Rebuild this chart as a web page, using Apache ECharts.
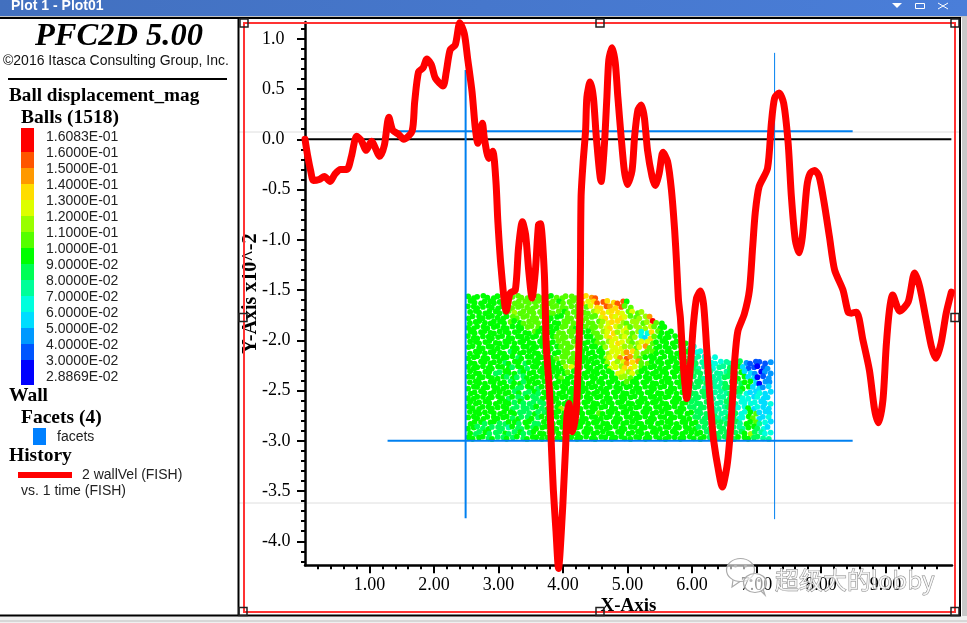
<!DOCTYPE html>
<html><head><meta charset="utf-8"><title>PFC2D history plot</title>
<script src="https://cdn.jsdelivr.net/npm/echarts@6/dist/echarts.min.js"></script>
<style>html,body{margin:0;padding:0;background:#fff}#c{width:967px;height:623px}</style></head>
<body><div id="c"></div>
<script>
// wallVel history (x: time, y: wallVel x10^-2)
const curveX = [0.00,0.04,0.09,0.13,0.22,0.30,0.39,0.46,0.55,0.65,0.72,0.80,0.87,0.95,1.03,1.16,1.23,1.30,1.36,1.45,1.53,1.66,1.70,1.76,1.83,1.89,1.96,2.02,2.14,2.19,2.25,2.33,2.40,2.47,2.52,2.59,2.64,2.68,2.75,2.78,2.85,2.91,2.96,2.99,3.04,3.12,3.18,3.26,3.31,3.37,3.42,3.47,3.52,3.57,3.62,3.65,3.71,3.74,3.79,3.82,3.85,3.89,3.93,3.99,4.01,4.04,4.06,4.09,4.15,4.20,4.22,4.26,4.27,4.28,4.31,4.35,4.37,4.42,4.47,4.52,4.59,4.64,4.68,4.71,4.76,4.81,4.85,4.90,4.95,5.00,5.07,5.11,5.16,5.21,5.26,5.31,5.38,5.43,5.49,5.55,5.62,5.68,5.73,5.76,5.79,5.82,5.86,5.92,5.98,6.02,6.07,6.13,6.18,6.23,6.27,6.31,6.34,6.40,6.47,6.54,6.58,6.63,6.66,6.71,6.81,6.89,6.94,6.98,7.04,7.17,7.23,7.28,7.35,7.42,7.49,7.54,7.60,7.66,7.71,7.78,7.83,7.90,7.97,8.05,8.13,8.21,8.34,8.42,8.47,8.55,8.65,8.75,8.83,8.89,8.96,9.01,9.06,9.11,9.22,9.35,9.45,9.53,9.63,9.71,9.78,9.86,9.94,10.02];
const curveY = [0.00,-0.16,-0.32,-0.41,-0.40,-0.37,-0.42,-0.35,-0.30,-0.30,-0.17,0.03,-0.01,-0.11,-0.02,-0.17,-0.06,0.22,0.09,0.05,0.00,0.08,0.37,0.67,0.71,0.80,0.74,0.61,0.53,0.67,0.89,0.94,1.16,1.05,0.81,0.47,0.11,-0.04,0.16,0.01,-0.19,-0.12,-0.42,-0.82,-1.28,-1.71,-1.53,-1.50,-1.08,-0.82,-0.95,-1.32,-1.58,-1.32,-0.85,-0.84,-1.33,-2.05,-2.51,-3.06,-3.49,-3.89,-4.27,-3.72,-3.46,-3.06,-2.76,-2.63,-2.91,-2.73,-2.51,-1.78,-1.30,-0.57,-0.24,0.09,0.42,0.57,0.42,-0.01,-0.42,-0.07,0.42,0.79,0.91,0.76,0.42,0.03,-0.31,-0.45,-0.31,0.03,0.29,0.34,0.22,-0.11,-0.37,-0.46,-0.34,-0.13,-0.22,-0.50,-0.90,-1.23,-1.60,-1.78,-2.21,-2.58,-2.21,-1.85,-1.58,-1.51,-1.65,-2.11,-2.51,-2.84,-3.02,-3.26,-3.46,-3.26,-3.02,-2.56,-2.21,-1.91,-1.74,-1.50,-1.07,-0.73,-0.47,-0.29,0.16,0.41,0.46,0.36,-0.04,-0.57,-1.00,-1.13,-0.97,-0.47,-0.34,-0.31,-0.37,-0.64,-0.97,-1.30,-1.50,-1.72,-1.73,-1.72,-2.00,-2.30,-2.69,-2.82,-2.59,-2.06,-1.70,-1.55,-1.71,-1.62,-1.33,-1.47,-1.80,-2.06,-2.18,-2.03,-1.73,-1.52];

// wall facets
const wallTopX = [1.28,8.49],  wallTopY = [0.08,0.08];
const wallBotX = [1.28,8.49],  wallBotY = [-3.00,-3.00];
const wallLeftX = [2.49,2.49], wallLeftY = [0.69,-3.77];
const wallRightX = [7.28,7.28], wallRightY = [0.86,-3.78];
const zeroX = [0,10.02], zeroY = [0,0];

// axis ticks
const xTicks = [1,2,3,4,5,6,7,8,9];
const xMinorTicks = [0.2,0.4,0.6,0.8,1.2,1.4,1.6,1.8,2.2,2.4,2.6,2.8,3.2,3.4,3.6,3.8,4.2,4.4,4.6,4.8,5.2,5.4,5.6,5.8,6.2,6.4,6.6,6.8,7.2,7.4,7.6,7.8,8.2,8.4,8.6,8.8,9.2,9.4,9.6,9.8];
const yTicks = [1,0.5,0,-0.5,-1,-1.5,-2,-2.5,-3,-3.5,-4];
const yMinorTicks = [1.1,0.9,0.8,0.7,0.6,0.4,0.3,0.2,0.1,-0.1,-0.2,-0.3,-0.4,-0.6,-0.7,-0.8,-0.9,-1.1,-1.2,-1.3,-1.4,-1.6,-1.7,-1.8,-1.9,-2.1,-2.2,-2.3,-2.4,-2.6,-2.7,-2.8,-2.9,-3.1,-3.2,-3.3,-3.4,-3.6,-3.7,-3.8,-3.9,-4.1,-4.2];

// colour legend
const legendLabels = ['1.6083E-01','1.6000E-01','1.5000E-01','1.4000E-01','1.3000E-01','1.2000E-01','1.1000E-01','1.0000E-01','9.0000E-02','8.0000E-02','7.0000E-02','6.0000E-02','5.0000E-02','4.0000E-02','3.0000E-02','2.8869E-02'];
const legendColors = ['#ff0000','#ff5500','#ff9900','#ffdd00','#ddff00','#99ff00','#55ff00','#00ff00','#00ff55','#00ff99','#00ffdd','#00ddff','#0099ff','#0055ff','#0000ff'];

// balls: one letter per ball, row by row from the top of the packing; the letter is its colour band (o = hottest)
const bandLetters = 'onmlkjihgfedcba';
const ballRows = [
"hhhhhhhhhi iiiiiihhii iiimlmn",
"hhhhhhhhji iiiiiiiihi iiilklnnll nnh",
"hhhhhhhhji iiiiiiiiii iiijikllnm lnii",
"hhhhhhhhij iiiiiiiiih iiiiijklkl lkikij",
"hhhhhhhhhi iiiiiiihhh iiiiiiikll klkiijjm",
"hhhhhhhhih hiiiihhhhi iiiiiiijkl ljijjijoih",
"hhhhhhhhhh hhiiihhhhi iihhiiijkl kjkijjjkih h",
"hhhhhhhhhh hhhihhhhii iihhhiijkl jkjijeelih hh",
"hhhhhhhhhh hhhhhhhhii iihhhhiikl kjkijedlih hhh",
"hhhhhhhhhh hhhhhhhhii iihhhhiijk lkjijkkihh hhhhhe",
"hhhhhhhhhh hhhhhhhhhi iijhhhhhjk kkjjikmihh hhhhhfe",
"hhhhhhhhgh hhhhhhhhhi iijhhhhhjk kkmljiiihh hhhhhfee",
"hhhhhhhhhh ghhhhhhhii iiihhhhhjk kmnmjihhhh hhhhhgffee e",
"hhhhhhhghh hghhhhhhhi iijhhhhhjk jkmlmiihhh hhhhhhgffe eeffggcbbb bc",
"hhhhhhhhhg hhghhhhhhh jkhhhhhhhk kjllkihhhh hhhhhggfff effgghdbba bc",
"hhhhhgghhh ghhhhhhhhh ihhhhhhhhh kkjkihhhhh hhhhhgggff fffgghddca cc",
"hhhhhhhhgh gghhhhhhhi hhhhhhhhhh hjjihhhhhh hhhhggggff ffggghhdda bc",
"hhhhhhhhgh hghhhhhhhh hhhhhhhhhh hhihhhhhhh hhhhhggggf ffgggghhda cc",
"hhhhhhhhhh gghhghhhhh hhhhhhhhhh hhhhhhhhhh hhhhggggff ffgggghhdd cd",
"hhhhhhhhhg hgghghhhhh hhhhhhhhhh hhhhhhhhhh hhhhgggggf fffgggedde dd",
"hhhhhhhhgh gghgghhhhh hhhhhhhhhh hhhhhhhhhh hhhhhggggg fffggfeede dd",
"hhhhhhhhhg hggggghhhh hhhhhhhhhh hhhhhhhhhh hhhhhggggg ffggfeeeed de",
"hhhhhhhhhg gggghghhhj ghhhhhhhhh hhhhhhhhhh hhhhhggggg fffgfeehde dd",
"hhhhhhhhhh ggghgghhhh hhhhhhihhh hhhhhhhhhh hhhhhhgggg ffffgeehid dd",
"hhhhhhhhhg hgghghhhhh hhhhhhhhhh hhhhhhhhhh hhhhhhgggg gffggeehid de",
"hhhghhgghh ghhgghhhhh hhhhhhhhhh hhhhhhhhhh hhhhhhhggg gggggfhhif ed",
"hhgghgggfh gghghhhhhh hhhhhhhhhh hhhhhhhhhh hhhhhhhggg gggggffhhg ed",
"hgghggghgg hgghhhhhhh hhhhhhhhhh hhhhhhhhhh hhhhhhhhgg gggggghjgf ee",
"hhhhghgghg hghhhhhhhh hhhhhhhhhh hhhhhhhhhh hhhhhhhhhg ggggghhhgg ff"
];
const ballFirstX = 2.53, ballStepX = 0.0762, ballFirstY = -1.57, ballStepY = 0.05;
// small packing offsets so the balls do not sit on a perfect lattice
const ballNudgeX = [0,0.012,-0.014,0.006,-0.008,0.016,-0.004,0.01,-0.012];
const ballNudgeY = [0.006,-0.01,0.002,0.012,-0.006,-0.012,0.008];

const ballData = [];
ballRows.forEach((row, r) => {
  row.replace(/ /g,'').split('').forEach((ch, c) => {
    const shift = r % 2 ? 0.4 : 0;
    const k = c + r * 3;
    ballData.push({ value:[ballFirstX + (c + shift) * ballStepX + ballNudgeX[k % ballNudgeX.length],
                           ballFirstY - r * ballStepY + ballNudgeY[k % ballNudgeY.length]],
                    itemStyle:{ color: legendColors[bandLetters.indexOf(ch)] } });
  });
});

const SERIF = '"Liberation Serif","Times New Roman",serif';
const SANS = '"Liberation Sans",Arial,sans-serif';
const pair = (xs, ys) => xs.map((x, i) => [x, ys[i]]);
const wall = (name, xs, ys, w) => ({ name, type:'line', data:pair(xs, ys), showSymbol:false, silent:true, clip:false, z:4,
  lineStyle:{ color:'#0080f0', width:w, cap:'butt' } });

const g = [];
const txt = (x, y, text, font, fill, extra) => g.push({ type:'text', z:20, silent:true,
  style:Object.assign({ x, y, text, font, fill:fill || '#000', align:'left', verticalAlign:'middle' }, extra || {}) });
const rect = (x, y, w, h, fill, z) => g.push({ type:'rect', z:z === undefined ? 1 : z, silent:true, shape:{ x, y, width:w, height:h }, style:{ fill } });
const seg = (x1, y1, x2, y2, stroke, lw, z) => g.push({ type:'line', z:z === undefined ? 1 : z, silent:true, shape:{ x1, y1, x2, y2 }, style:{ stroke, lineWidth:lw } });

// window chrome
g.push({ type:'rect', z:1, silent:true, shape:{ x:0, y:0, width:967, height:16 },
  style:{ fill:{ type:'linear', x:0, y:0, x2:1, y2:0, colorStops:[{ offset:0, color:'#4270bf' },{ offset:1, color:'#4a7ed9' }] } } });
rect(0,16,967,1.5,'#c4c4c4');
rect(962,17,5,600,'#c8c8c8');
rect(0,616,967,7,'#f0f0f0');
rect(0,620.5,967,1,'#bdbdbd');
seg(0,18,961,18,'#000',2,3);
seg(0,615.5,961,615.5,'#000',2,3);
seg(238.5,18,238.5,616,'#000',2,3);
seg(960,18,960,616,'#000',2,3);
txt(11,6,'Plot 1 - Plot01','bold 14px '+SANS,'#fff');
g.push({ type:'polygon', z:3, silent:true, shape:{ points:[[892,3],[902,3],[897,8]] }, style:{ fill:'#fff' } });
g.push({ type:'rect', z:3, silent:true, shape:{ x:915.5,y:3.5,width:9,height:5 }, style:{ fill:'none', stroke:'#fff', lineWidth:1 } });
seg(938,3,948,9,'#fff',1,3); seg(938,9,948,3,'#fff',1,3);

// plot frame
seg(238,132,960,132,'#dedede',1,0);
seg(238,503,960,503,'#dedede',1,0);
g.push({ type:'rect', z:1, silent:true, shape:{ x:244,y:23,width:711,height:589 }, style:{ fill:'none', stroke:'#ff3333', lineWidth:2 } });
[[244,23],[600,23],[955,23],[243,317.5],[955,317.5],[243,611.5],[600,611.5],[955,611.5]].forEach(p =>
  g.push({ type:'rect', z:6, silent:true, shape:{ x:p[0]-4,y:p[1]-4,width:8,height:8 }, style:{ fill:'none', stroke:'#222', lineWidth:1.5 } }));

// left panel
txt(35,37,'PFC2D 5.00','italic bold 32.5px '+SERIF);
txt(3,61,'©2016 Itasca Consulting Group, Inc.','14px '+SANS,'#111');
seg(8,79,227,79,'#000',2);
txt(9,96,'Ball displacement_mag','bold 19.2px '+SERIF);
txt(21,118,'Balls (1518)','bold 19.5px '+SERIF);
legendColors.forEach((c, i) => {
  const y = i === 0 ? 128 : 136 + i * 16;
  const h = i === 0 ? 24 : (i === 14 ? 25 : 16);
  rect(21,y,13,h,c);
});
legendLabels.forEach((t, i) => txt(46,137 + i * 16,t,'14px '+SANS,'#222'));
txt(9,396,'Wall','bold 19.5px '+SERIF);
txt(21,418,'Facets (4)','bold 19.5px '+SERIF);
rect(33,428,13,17,'#0080ff');
txt(57,437,'facets','14px '+SANS,'#222');
txt(9,456,'History','bold 19.5px '+SERIF);
rect(18,472,54,6,'#ff0000');
txt(82,475,'2 wallVel (FISH)','14px '+SANS,'#222');
txt(21,491,'vs. 1 time (FISH)','14px '+SANS,'#222');

// watermark
const bubble = (cx, cy, rx, ry, tail) => {
  g.push({ type:'polyline', z:30, silent:true, shape:{ points:tail }, style:{ fill:'none', stroke:'#aaa', lineWidth:1.2 } });
  g.push({ type:'ellipse', z:30, silent:true, shape:{ cx, cy, rx, ry }, style:{ fill:'rgba(255,255,255,0.6)', stroke:'#aaa', lineWidth:1.2 } });
};
bubble(740.5,570,14,11.5,[[733,580],[732,587],[740,581.5]]);
bubble(755,583,11.5,9.5,[[761,591],[765,595],[763,589]]);
[[735.5,566],[745.5,566],[751,580.5],[759,580.5]].forEach(p =>
  g.push({ type:'circle', z:31, silent:true, shape:{ cx:p[0],cy:p[1],r:1.5 }, style:{ fill:'#b5b5b5' } }));
g.push({ type:'text', z:31, silent:true, style:{ x:775,y:580,text:'超级大的lobby',font:'24px "Noto Sans CJK SC",sans-serif',
  fill:'rgba(255,255,255,0.72)', stroke:'rgba(110,110,110,0.85)', lineWidth:0.9, align:'left', verticalAlign:'middle' } });

const XMIN = 0, XMAX = 10.03, YMIN = -4.239, YMAX = 1.167;
const tickLine = { color:'#000', width:2 };
const option = {
  animation:false, backgroundColor:'#fff',
  grid:{ left:305, top:22, width:647, height:543.3, containLabel:false, outerBoundsMode:'none' },
  xAxis:[
    { type:'value', min:XMIN, max:XMAX, position:'bottom', splitLine:{ show:false },
      axisLine:{ show:true, onZero:false, lineStyle:{ color:'#000', width:2.5 } },
      axisTick:{ show:true, length:8, lineStyle:tickLine, customValues:xTicks },
      axisLabel:{ show:true, customValues:xTicks, formatter:v => v.toFixed(2), margin:11, color:'#000', fontFamily:SERIF, fontSize:18 },
      name:'X-Axis', nameLocation:'middle', nameGap:31, nameMoveOverlap:false,
      nameTextStyle:{ fontFamily:SERIF, fontWeight:'bold', fontSize:19, color:'#000' } },
    { type:'value', min:XMIN, max:XMAX, position:'bottom', splitLine:{ show:false }, axisLine:{ show:false, onZero:false },
      axisTick:{ show:true, length:4, lineStyle:tickLine, customValues:xMinorTicks }, axisLabel:{ show:false } }
  ],
  yAxis:[
    { type:'value', min:YMIN, max:YMAX, position:'left', splitLine:{ show:false },
      axisLine:{ show:true, onZero:false, lineStyle:{ color:'#000', width:2.5 } },
      axisTick:{ show:true, length:8, lineStyle:tickLine, customValues:yTicks },
      axisLabel:{ show:true, customValues:yTicks, formatter:v => v.toFixed(1), align:'left', margin:43, color:'#000', fontFamily:SERIF, fontSize:18 },
      name:'Y-Axis x10^-2', nameLocation:'middle', nameGap:44, nameRotate:90, nameMoveOverlap:false,
      nameTextStyle:{ fontFamily:SERIF, fontWeight:'bold', fontSize:20, color:'#000' } },
    { type:'value', min:YMIN, max:YMAX, position:'left', splitLine:{ show:false }, axisLine:{ show:false, onZero:false },
      axisTick:{ show:true, length:4, lineStyle:tickLine, customValues:yMinorTicks }, axisLabel:{ show:false } }
  ],
  series:[
    { name:'balls', type:'scatter', symbol:'circle', symbolSize:5.8, data:ballData, silent:true, z:2, large:false, itemStyle:{ opacity:1 } },
    wall('wall top', wallTopX, wallTopY, 2),
    wall('wall bottom', wallBotX, wallBotY, 2),
    wall('wall left', wallLeftX, wallLeftY, 2),
    wall('wall right', wallRightX, wallRightY, 1),
    { name:'zero', type:'line', data:pair(zeroX, zeroY), showSymbol:false, silent:true, z:3, lineStyle:{ color:'#000', width:2 } },
    { name:'2 wallVel (FISH)', type:'line', data:pair(curveX, curveY), showSymbol:false, silent:true, clip:false, z:5, smooth:0.25,
      lineStyle:{ color:'#ff0000', width:7, cap:'round', join:'round' } }
  ],
  graphic:{ elements:g }
};
echarts.init(document.getElementById('c'), null, { renderer:'canvas' }).setOption(option);
</script></body></html>
